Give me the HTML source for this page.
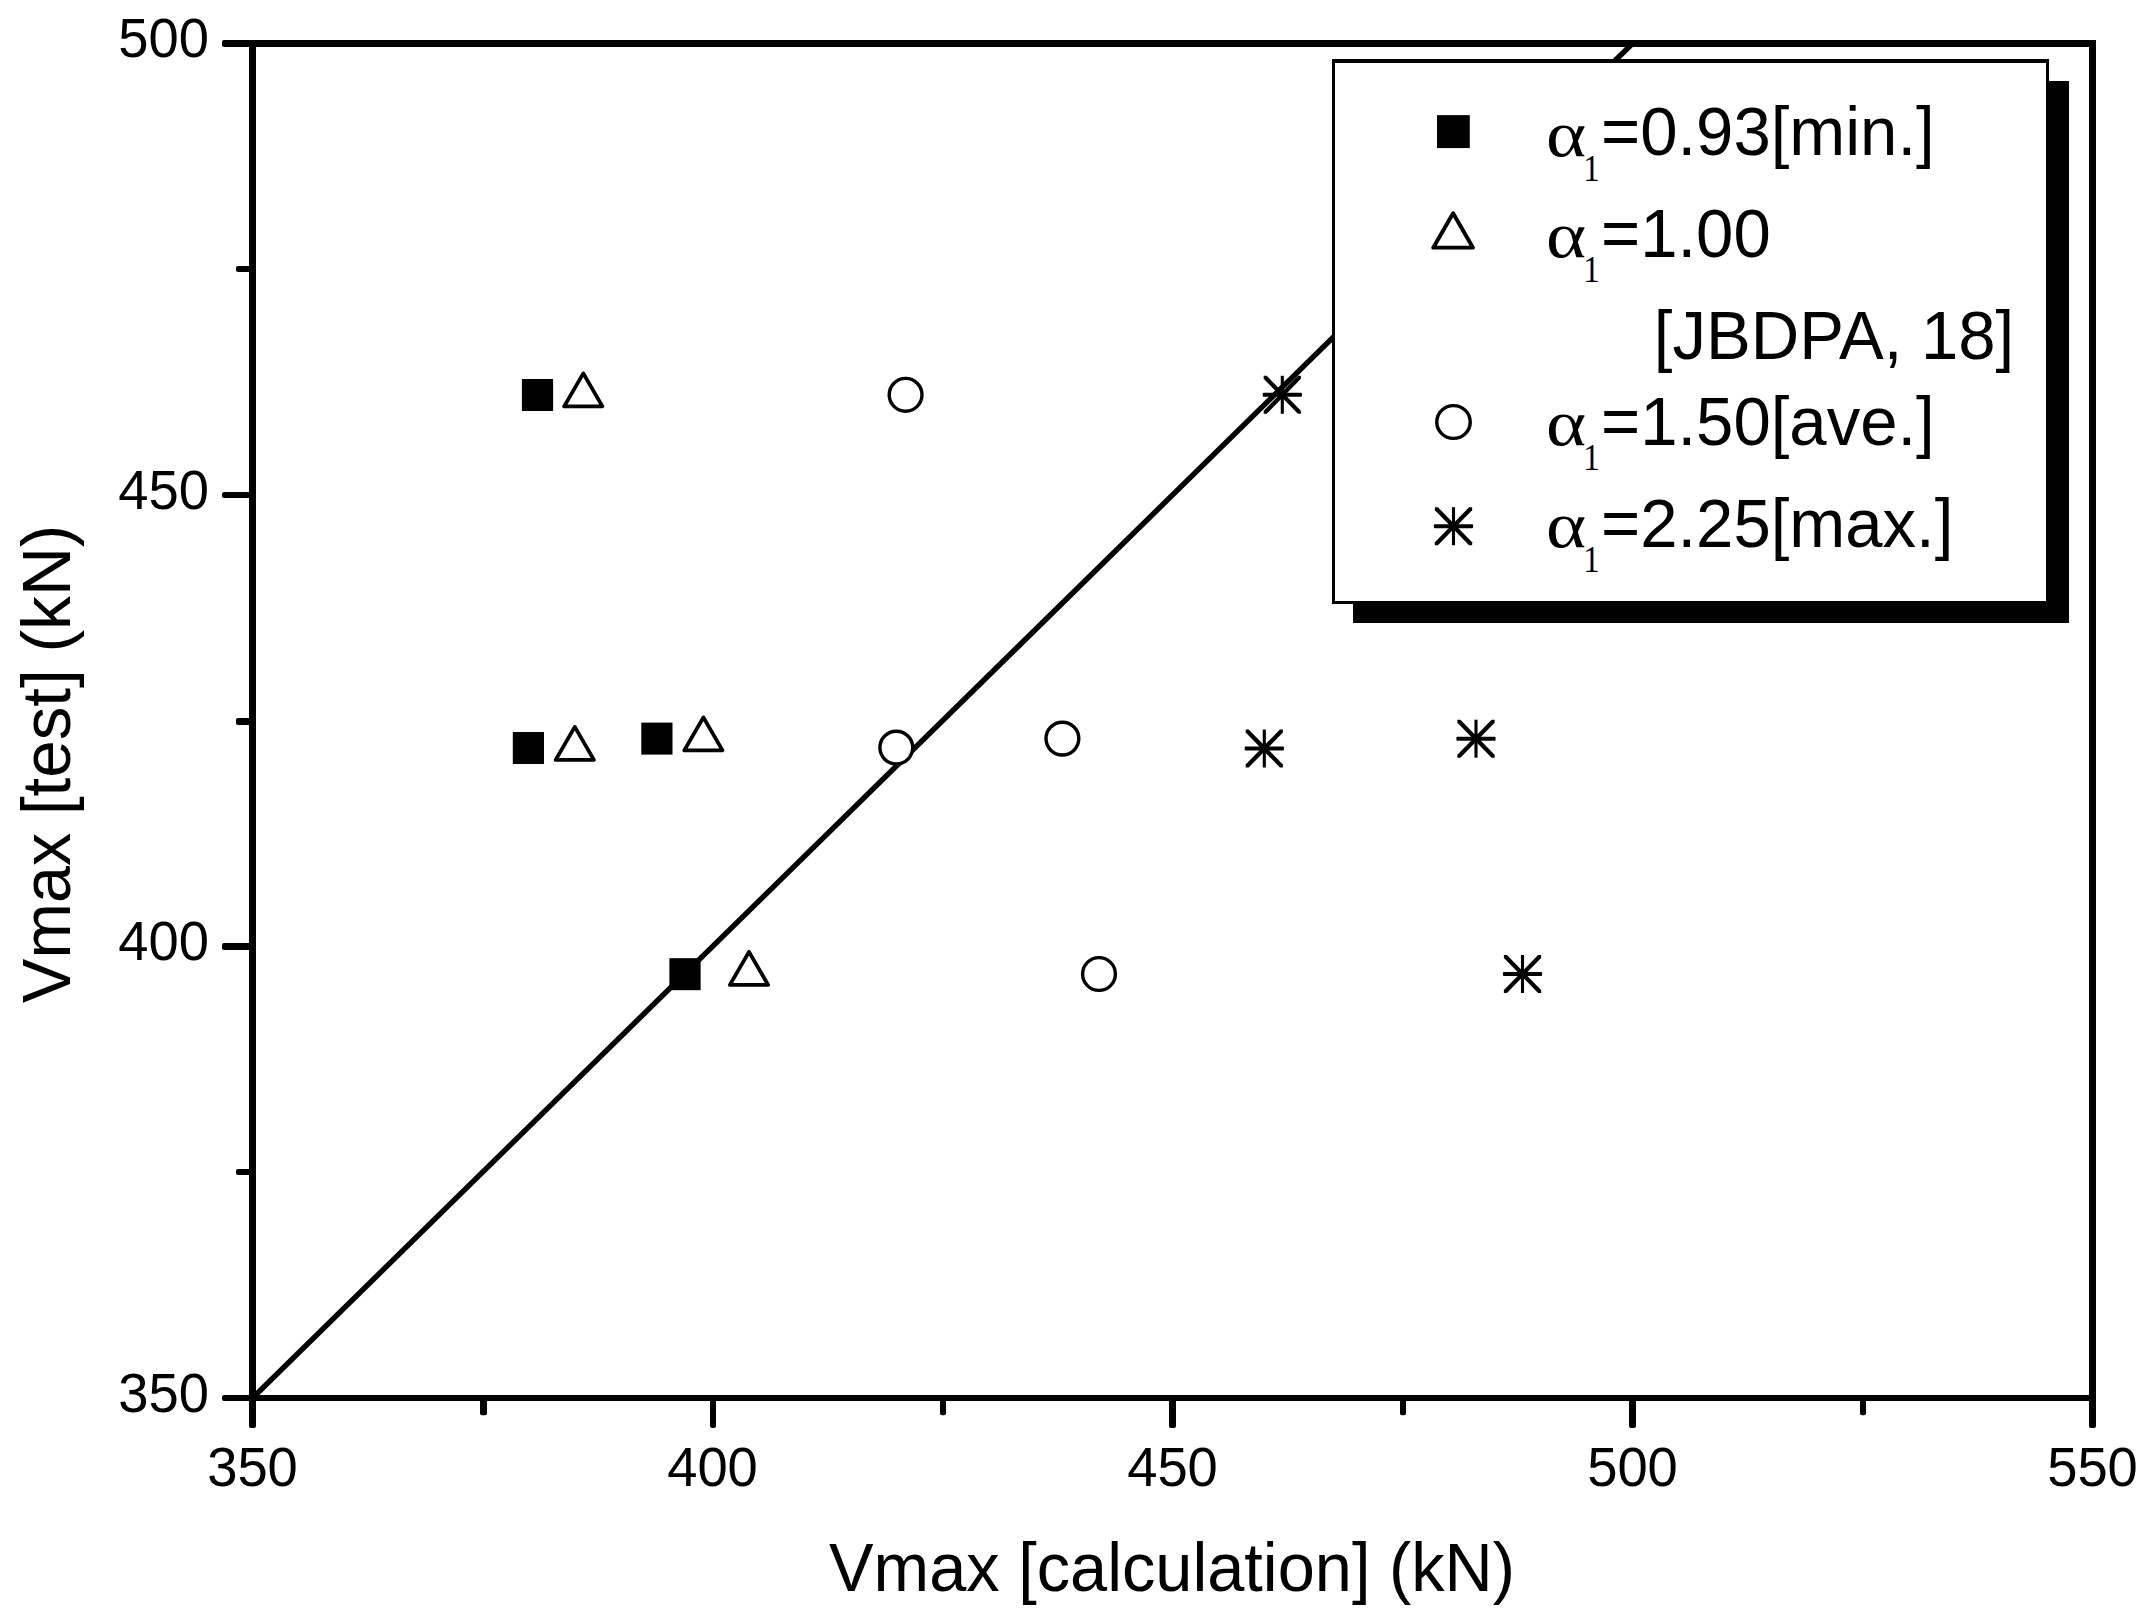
<!DOCTYPE html>
<html lang="en">
<head>
<meta charset="utf-8">
<title>Vmax test vs calculation</title>
<style>
  html, body { margin: 0; padding: 0; background: #ffffff; }
  body { width: 2154px; height: 1621px; overflow: hidden; }
  svg { display: block; }
  text { font-family: "Liberation Sans", sans-serif; fill: #000; }
  .tick { font-size: 55.2px; }
  .title { font-size: 67.8px; }
  .leg { font-size: 68.6px; }
  .sym { font-family: "Liberation Serif", serif; }
  .ax { stroke: #000; stroke-width: 7; fill: none; stroke-linecap: butt; }
  .mk { stroke: #000; stroke-width: 3.4; fill: #fff; stroke-linejoin: round; }
  .sq { fill: #000; stroke: none; }
</style>
</head>
<body>
<svg width="2154" height="1621" viewBox="0 0 2154 1621">
  <defs>
    <g id="m-sq"><rect class="sq" x="-15.6" y="-16" width="31.2" height="32"/></g>
    <g id="m-tr"><polygon class="mk" points="0,-22.1 19.1,10.9 -19.1,10.9" style="stroke-width:3.8"/></g>
    <g id="m-ci"><circle class="mk" cx="0" cy="0" r="16.4"/></g>
    <g id="m-st" fill="#000">
      <rect x="-1.55" y="-19" width="3.1" height="38"/>
      <rect x="-19.6" y="-2" width="39.2" height="4" rx="1"/>
      <polygon points="-18.6,-19 -15.6,-19 18.6,16 18.6,19 15.6,19 -18.6,-16"/>
      <polygon points="18.6,-19 15.6,-19 -18.6,16 -18.6,19 -15.6,19 18.6,-16"/>
    </g>
  </defs>

  <rect x="0" y="0" width="2154" height="1621" fill="#fff"/>

  <!-- reference line y = x -->
  <line x1="252.5" y1="1398" x2="1632.5" y2="43.5" stroke="#000" stroke-width="5.4"/>

  <!-- axes frame -->
  <line class="ax" x1="252.5" y1="40" x2="252.5" y2="1401"/>
  <line class="ax" x1="2092.5" y1="40" x2="2092.5" y2="1401"/>
  <line class="ax" x1="249" y1="43.5" x2="2096" y2="43.5"/>
  <line class="ax" x1="249" y1="1398" x2="2096" y2="1398" style="stroke-width:6"/>

  <!-- left ticks -->
  <g fill="#000">
    <rect x="222" y="40" width="31" height="7" rx="2"/>
    <rect x="222" y="492" width="31" height="6" rx="2"/>
    <rect x="222" y="943" width="31" height="7" rx="2"/>
    <rect x="222" y="1395" width="31" height="6" rx="2"/>
    <rect x="236" y="266" width="17" height="6" rx="2"/>
    <rect x="236" y="718" width="17" height="7" rx="2"/>
    <rect x="236" y="1169" width="17" height="6" rx="2"/>
  </g>
  <!-- bottom ticks -->
  <g fill="#000">
    <rect x="249" y="1397" width="7" height="31" rx="2"/>
    <rect x="710" y="1397" width="6" height="31" rx="2"/>
    <rect x="1169" y="1397" width="7" height="31" rx="2"/>
    <rect x="1629" y="1397" width="7" height="31" rx="2"/>
    <rect x="2089" y="1397" width="7" height="31" rx="2"/>
    <rect x="480" y="1397" width="7" height="18.3" rx="2"/>
    <rect x="940" y="1397" width="6" height="18.3" rx="2"/>
    <rect x="1400" y="1397" width="6" height="18.3" rx="2"/>
    <rect x="1860" y="1397" width="6" height="18.3" rx="2"/>
  </g>

  <!-- y tick labels -->
  <g class="tick" text-anchor="end">
    <text transform="translate(209,56.8) scale(0.985,1)">500</text>
    <text transform="translate(209,508.6) scale(0.985,1)">450</text>
    <text transform="translate(209,960.1) scale(0.985,1)">400</text>
    <text transform="translate(209,1411.6) scale(0.985,1)">350</text>
  </g>
  <!-- x tick labels -->
  <g class="tick" text-anchor="middle">
    <text transform="translate(252.5,1485.6) scale(0.985,1)">350</text>
    <text transform="translate(712.5,1485.6) scale(0.985,1)">400</text>
    <text transform="translate(1172.5,1485.6) scale(0.985,1)">450</text>
    <text transform="translate(1632.5,1485.6) scale(0.985,1)">500</text>
    <text transform="translate(2092.5,1485.6) scale(0.985,1)">550</text>
  </g>

  <!-- axis titles -->
  <text class="title" text-anchor="middle" transform="translate(1172,1590.6) scale(0.984,1)">Vmax [calculation] (kN)</text>
  <text class="title" text-anchor="middle" transform="translate(70,917.8) rotate(-90) scale(0.982,1)">Vmax</text>
  <text class="title" text-anchor="middle" transform="translate(70,742.2) rotate(-90) scale(0.992,1)">[test]</text>
  <text class="title" text-anchor="middle" transform="translate(70,588.6) rotate(-90) scale(1.0,1)">(kN)</text>

  <!-- data markers -->
  <use href="#m-sq" x="537.5" y="395"/>
  <use href="#m-sq" x="528.4" y="748"/>
  <use href="#m-sq" x="656.9" y="738.6"/>
  <use href="#m-sq" x="685" y="974.2"/>

  <use href="#m-tr" x="583.3" y="395.5"/>
  <use href="#m-tr" x="574.8" y="749"/>
  <use href="#m-tr" x="703.4" y="739.5"/>
  <use href="#m-tr" x="749" y="974"/>

  <use href="#m-ci" x="905.6" y="394.8"/>
  <use href="#m-ci" x="896.3" y="747.6"/>
  <use href="#m-ci" x="1062.4" y="738.6"/>
  <use href="#m-ci" x="1099" y="974"/>

  <use href="#m-st" x="1282.3" y="394.8"/>
  <use href="#m-st" x="1264.3" y="748.5"/>
  <use href="#m-st" x="1476" y="738.7"/>
  <use href="#m-st" x="1522.5" y="974"/>

  <!-- legend -->
  <rect x="1353" y="81" width="716" height="542" fill="#000"/>
  <rect x="1333.5" y="60.5" width="714" height="542" fill="#fff" stroke="#000" stroke-width="3"/>
  <rect x="1332" y="59" width="717" height="4" fill="#000"/>

  <use href="#m-sq" transform="translate(1453.4,131.6) scale(1.05,1.03)"/>
  <use href="#m-tr" transform="translate(1453.1,236.3) scale(1.04)"/>
  <use href="#m-ci" transform="translate(1453.5,422) scale(1.02,1.0)"/>
  <use href="#m-st" transform="translate(1453.5,526.2) scale(1.0)"/>

  <g class="leg">
    <text class="sym" font-size="65.5" transform="translate(1546,155.7) scale(1.17,1)">α</text>
    <text class="sym" font-size="37.4" transform="translate(1583.2,180.7) scale(0.88,1)">1</text>
    <text transform="translate(1601,155.1) scale(0.978,1)">=0.93[min.]</text>
    <text class="sym" font-size="65.5" transform="translate(1546,257.4) scale(1.17,1)">α</text>
    <text class="sym" font-size="37.4" transform="translate(1583.2,282.4) scale(0.88,1)">1</text>
    <text transform="translate(1601,256.8) scale(0.978,1)">=1.00</text>
    <text transform="translate(1653.8,359.3) scale(0.978,1)">[JBDPA, 18]</text>
    <text class="sym" font-size="65.5" transform="translate(1546,445.2) scale(1.17,1)">α</text>
    <text class="sym" font-size="37.4" transform="translate(1583.2,470.2) scale(0.88,1)">1</text>
    <text transform="translate(1601,444.6) scale(0.978,1)">=1.50[ave.]</text>
    <text class="sym" font-size="65.5" transform="translate(1546,547.2) scale(1.17,1)">α</text>
    <text class="sym" font-size="37.4" transform="translate(1583.2,572.2) scale(0.88,1)">1</text>
    <text transform="translate(1601,546.6) scale(0.978,1)">=2.25[max.]</text>
  </g>
</svg>
</body>
</html>
